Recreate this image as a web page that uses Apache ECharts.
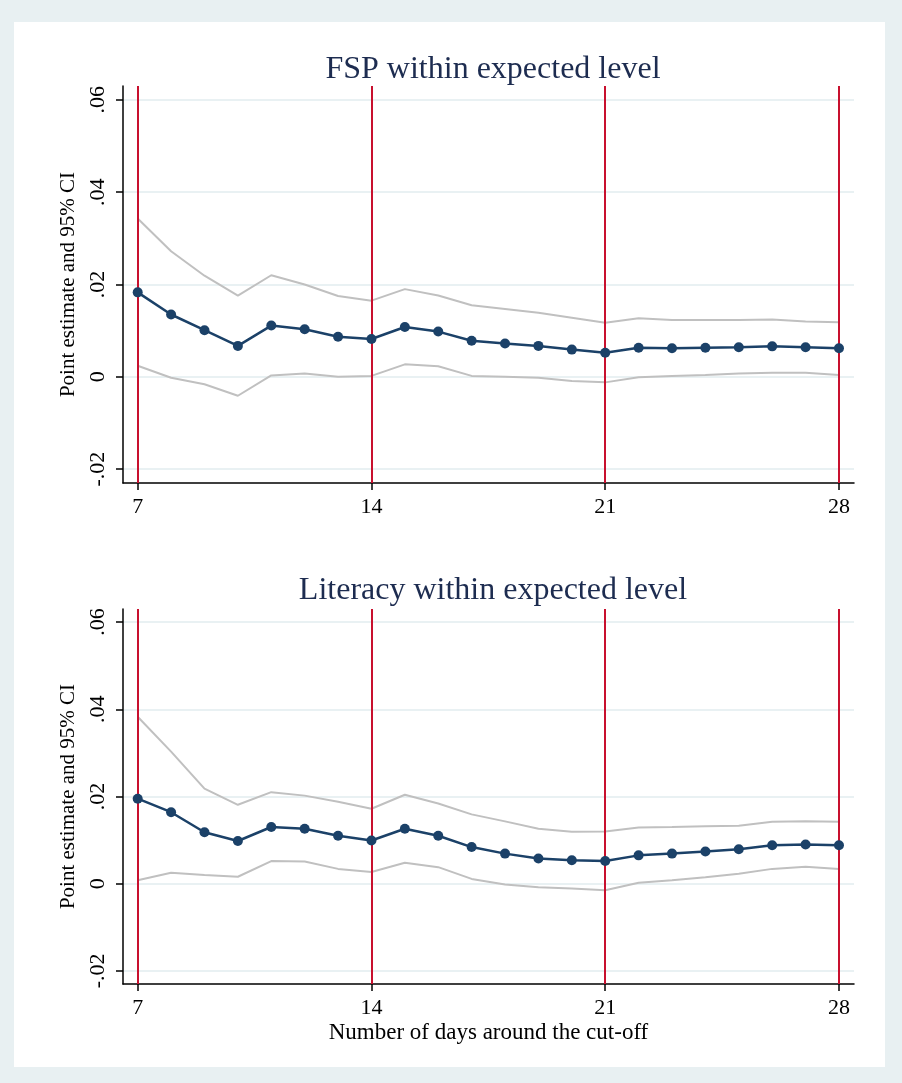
<!DOCTYPE html>
<html>
<head>
<meta charset="utf-8">
<script src="https://cdn.jsdelivr.net/npm/echarts@6/dist/echarts.min.js"></script>
<style>
  html, body { margin: 0; padding: 0; background: #e8f0f2; }
  #chart { width: 902px; height: 1083px; }
</style>
</head>
<body>
<div id="chart"></div>
<script>
const days = [7, 8, 9, 10, 11, 12, 13, 14, 15, 16, 17, 18, 19, 20, 21, 22, 23, 24, 25, 26, 27, 28];
const dayTicks = [7, 14, 21, 28];
const yTicks = [-0.02, 0, 0.02, 0.04, 0.06];

// FSP within expected level
const fspEst = [0.0183, 0.0135, 0.0101, 0.0067, 0.0111, 0.0103, 0.0087, 0.0082, 0.0108, 0.0098, 0.0078,
                0.0072, 0.0067, 0.0059, 0.0052, 0.0063, 0.0062, 0.0063, 0.0064, 0.0066, 0.0064, 0.0062];
const fspHi = [0.0343, 0.0272, 0.0219, 0.0176, 0.0220, 0.0200, 0.0175, 0.0165, 0.0190, 0.0176, 0.0155,
               0.0147, 0.0139, 0.0128, 0.0117, 0.0127, 0.0123, 0.0123, 0.0123, 0.0124, 0.0120, 0.0118];
const fspLo = [0.0024, -0.0002, -0.0016, -0.0041, 0.0003, 0.0007, 0.0000, 0.0002, 0.0027, 0.0023, 0.0002,
               0.0000, -0.0002, -0.0009, -0.0012, -0.0001, 0.0002, 0.0004, 0.0007, 0.0009, 0.0009, 0.0004];

// Literacy within expected level
const litEst = [0.0195, 0.0164, 0.0118, 0.0098, 0.0130, 0.0126, 0.0110, 0.0099, 0.0126, 0.0110, 0.0084,
                0.0069, 0.0058, 0.0054, 0.0052, 0.0065, 0.0069, 0.0074, 0.0079, 0.0088, 0.0090, 0.0088];
const litHi = [0.0383, 0.0303, 0.0218, 0.0181, 0.0210, 0.0202, 0.0188, 0.0172, 0.0204, 0.0184, 0.0159,
               0.0143, 0.0126, 0.0119, 0.0120, 0.0129, 0.0130, 0.0132, 0.0133, 0.0142, 0.0143, 0.0142];
const litLo = [0.0008, 0.0025, 0.0020, 0.0016, 0.0052, 0.0051, 0.0034, 0.0027, 0.0048, 0.0038, 0.0011,
               -0.0002, -0.0008, -0.0011, -0.0015, 0.0002, 0.0008, 0.0015, 0.0023, 0.0034, 0.0039, 0.0034];

const titles = ['FSP within expected level', 'Literacy within expected level'];

const serif = 'Liberation Serif';
const pairs = arr => days.map((d, i) => [d, arr[i]]);

function fmtY(v) {
    if (Math.abs(v) < 1e-9) return '0';
    return (v < 0 ? '-' : '') + Math.abs(v).toFixed(2).replace(/^0/, '');
}

function xAxisFor(idx, withName) {
    return {
        type: 'value', gridIndex: idx, min: 6.56, max: 28.45,
        axisLine: { onZero: false, lineStyle: { color: '#000', width: 1.5 } },
        axisTick: { show: true, length: 7, customValues: dayTicks, lineStyle: { color: '#000', width: 1.5 } },
        axisLabel: { customValues: dayTicks, color: '#000', fontFamily: serif, fontSize: 22, margin: 13 },
        splitLine: { show: false },
        name: withName ? 'Number of days around the cut-off' : '',
        nameLocation: 'middle', nameGap: 37,
        nameTextStyle: { color: '#000', fontFamily: serif, fontSize: 23 }
    };
}

function yAxisFor(idx) {
    return {
        type: 'value', gridIndex: idx, min: -0.023, max: 0.063,
        axisLine: { show: true, onZero: false, lineStyle: { color: '#000', width: 1.5 } },
        axisTick: { show: true, length: 7, customValues: yTicks, lineStyle: { color: '#000', width: 1.5 } },
        axisLabel: { customValues: yTicks, rotate: 90, color: '#000', fontFamily: serif, fontSize: 22,
                     margin: 14, formatter: fmtY },
        splitLine: { show: true, lineStyle: { color: '#e9f1f3', width: 2 } },
        name: 'Point estimate and 95% CI',
        nameLocation: 'middle', nameRotate: 90, nameGap: 38,
        nameTextStyle: { color: '#000', fontFamily: serif, fontSize: 21 }
    };
}

function seriesFor(idx, est, hi, lo) {
    const ci = (arr) => ({
        type: 'line', xAxisIndex: idx, yAxisIndex: idx, data: pairs(arr),
        showSymbol: false, symbol: 'none', silent: true,
        lineStyle: { color: '#c0c0c0', width: 2 }, z: 3
    });
    return [
        ci(hi), ci(lo),
        {
            type: 'line', xAxisIndex: idx, yAxisIndex: idx, data: pairs(est),
            symbol: 'circle', symbolSize: 10,
            itemStyle: { color: '#1b4168' },
            lineStyle: { color: '#1b4168', width: 2.5 }, z: 5,
            markLine: {
                silent: true, symbol: 'none', label: { show: false },
                lineStyle: { color: '#c8102e', width: 2, type: 'solid' },
                data: dayTicks.map(d => ({ xAxis: d }))
            }
        }
    ];
}

const chart = echarts.init(document.getElementById('chart'));

chart.setOption({
    backgroundColor: '#e8f0f2',
    animation: false,
    graphic: [{
        type: 'rect', shape: { x: 14, y: 22, width: 871, height: 1045 },
        style: { fill: '#ffffff' }, z: -10, silent: true
    }],
    title: [
        { text: titles[0], left: 488, top: 49, textAlign: 'center',
          textStyle: { color: '#1d2c50', fontFamily: serif, fontSize: 32, fontWeight: 'normal' } },
        { text: titles[1], left: 488, top: 570, textAlign: 'center',
          textStyle: { color: '#1d2c50', fontFamily: serif, fontSize: 32, fontWeight: 'normal' } }
    ],
    grid: [
        { left: 123, right: 48, top: 86, height: 397 },
        { left: 123, right: 48, top: 609, height: 375 }
    ],
    xAxis: [xAxisFor(0, false), xAxisFor(1, true)],
    yAxis: [yAxisFor(0), yAxisFor(1)],
    series: [...seriesFor(0, fspEst, fspHi, fspLo), ...seriesFor(1, litEst, litHi, litLo)]
});
</script>
</body>
</html>
